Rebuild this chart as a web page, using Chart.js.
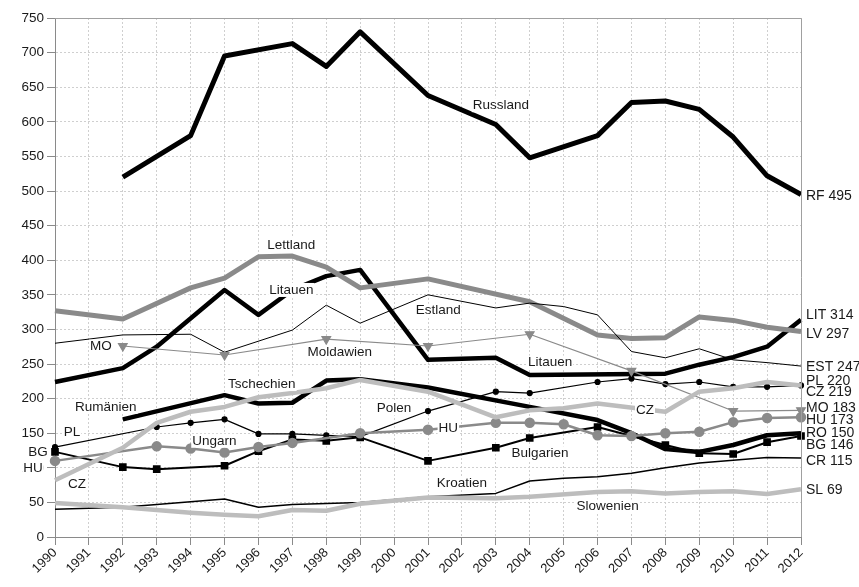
<!DOCTYPE html>
<html>
<head>
<meta charset="utf-8">
<script src="https://cdn.jsdelivr.net/npm/chart.js@4/dist/chart.umd.min.js"></script>
<style>
  body { margin: 0; background: #fff; }
  #wrap { width: 859px; height: 587px; }
</style>
</head>
<body>
<div id="wrap"><canvas id="chart"></canvas></div>
<script>
// Years and series (null = no point, the line just runs through)
const years = ["1990","1991","1992","1993","1994","1995","1996","1997","1998","1999","2000","2001",
               "2002","2003","2004","2005","2006","2007","2008","2009","2010","2011","2012"];

const russland   = [null,null,520,null,580,695,null,713,680,730,null,638,null,596,548,null,580,628,630,618,578,522,495];
const lettland   = [327,null,315,null,360,374,405,406,390,360,null,373,null,null,340,null,292,287,288,318,313,303,297];
const litauen    = [224,null,244,275,null,357,321,357,377,386,null,256,null,259,234,null,null,null,236,249,260,275,314];
const estland    = [280,null,292,null,293,267,null,299,335,309,null,350,null,331,338,333,321,268,259,272,256,252,247];
const moldawien  = [null,null,276,null,null,263,null,null,286,null,null,276,null,null,293,null,null,240,null,null,182,null,183];
const tschechien = [82,null,129,165,181,188,202,208,215,227,null,210,null,173,183,186,193,null,181,210,215,224,219];
const rumaenien  = [null,null,170,null,null,205,193,194,226,228,null,216,null,null,188,null,169,150,127,123,133,147,150];
const polen      = [130,null,null,159,165,170,149,149,147,145,null,182,null,210,208,null,224,229,221,224,217,217,219];
const ungarn     = [110,null,null,131,128,122,130,136,null,150,null,155,null,165,165,163,147,146,150,152,166,172,173];
const bulgarien  = [123,null,101,98,null,103,124,141,139,144,null,110,null,129,143,null,159,null,133,121,120,137,146];
const kroatien   = [40,null,43,null,null,55,43,47,null,50,null,58,null,63,81,85,87,92,100,107,111,115,114];
const slowenien  = [49,null,43,null,35,32,30,39,38,48,null,57,null,56,58,null,65,66,63,65,66,62,69];

const yTicks = { min: 0, max: 750, step: 50 };

// end labels at the right axis: text, value the label sits at
const endLabels = [
  ["RF 495", 493], ["LIT 314", 321], ["LV 297", 293], ["EST 247", 246],
  ["PL 220", 225], ["CZ 219", 210], ["MO 183", 186], ["HU 173", 169],
  ["RO 150", 150], ["BG 146", 133], ["CR 115", 110], ["SL 69", 68]
];

// names written inside the plot: text, year index, value
const inlineLabels = [
  ["Russland", 13.15, 624], ["Lettland", 6.97, 422], ["Litauen", 6.97, 357],
  ["Estland", 11.3, 327], ["Moldawien", 8.4, 267], ["Litauen", 14.6, 252],
  ["Tschechien", 6.1, 221], ["Rumänien", 1.5, 188], ["Polen", 10.0, 186],
  ["CZ", 17.4, 183], ["PL", 0.5, 152], ["Ungarn", 4.7, 139], ["MO", 1.35, 275],
  ["HU", 11.6, 157], ["Bulgarien", 14.3, 121], ["Kroatien", 12.0, 78],
  ["Slowenien", 16.3, 44], ["CZ", 0.65, 76], ["BG", -0.5, 123], ["HU", -0.65, 99]
];

const BLACK = "#000", GRAY = "#8a8a8a", LIGHT = "#bdbdbd";
const FONT = "'Liberation Sans', Arial, sans-serif";

function line(label, data, color, width, extra) {
  return Object.assign({
    label, data, borderColor: color, backgroundColor: color,
    borderWidth: width, pointRadius: 0, spanGaps: true, tension: 0,
    borderJoinStyle: "round", borderCapStyle: "butt"
  }, extra || {});
}

const datasets = [
  line("Slowenien", slowenien, LIGHT, 4.5),
  line("Kroatien", kroatien, BLACK, 1.5),
  line("Tschechien", tschechien, LIGHT, 4.5),
  line("Moldawien", moldawien, GRAY, 1.2, { pointStyle: "triangle", rotation: 180, pointRadius: 5 }),
  line("Ungarn", ungarn, GRAY, 2.5, { pointStyle: "circle", pointRadius: 4 }),
  line("Bulgarien", bulgarien, BLACK, 2, { pointStyle: "rect", pointRadius: 4 }),
  line("Polen", polen, BLACK, 1.2, { pointStyle: "circle", pointRadius: 2.5 }),
  line("Rumänien", rumaenien, BLACK, 4.5),
  line("Estland", estland, BLACK, 1),
  line("Lettland", lettland, GRAY, 5),
  line("Litauen", litauen, BLACK, 4.5),
  line("Russland", russland, BLACK, 5)
];

// frame, and all text labels
const labelPlugin = {
  id: "labels",
  afterDraw(chart) {
    const { ctx, chartArea: a, scales: { x, y } } = chart;
    ctx.save();
    ctx.strokeStyle = "#a0a0a0";
    ctx.lineWidth = 1;
    ctx.beginPath();
    ctx.moveTo(a.left, a.top + 0.5); ctx.lineTo(a.right + 0.5, a.top + 0.5); ctx.lineTo(a.right + 0.5, a.bottom);
    ctx.stroke();

    ctx.font = "13.5px " + FONT;
    ctx.textBaseline = "middle";
    ctx.textAlign = "center";
    inlineLabels.forEach(([t, xi, v]) => {
      const px = x.getPixelForValue(xi), py = y.getPixelForValue(v);
      const w = ctx.measureText(t).width;
      ctx.fillStyle = "#fff";
      ctx.fillRect(px - w / 2 - 1, py - 7, w + 2, 14);
      ctx.fillStyle = "#1a1a1a";
      ctx.fillText(t, px, py);
    });

    ctx.font = "14px " + FONT;
    ctx.textAlign = "left";
    endLabels.forEach(([t, v]) => {
      ctx.fillStyle = "#1a1a1a";
      ctx.fillText(t, a.right + 5, y.getPixelForValue(v));
    });
    ctx.restore();
  }
};

const ctx = document.getElementById("chart").getContext("2d");
new Chart(ctx, {
  type: "line",
  data: { labels: years, datasets },
  options: {
    responsive: true,
    maintainAspectRatio: false,
    animation: false,
    events: [],
    layout: { padding: { top: 18, right: 58, left: 0, bottom: 0 } },
    plugins: { legend: { display: false }, tooltip: { enabled: false } },
    scales: {
      x: {
        type: "category",
        offset: false,
        afterFit: s => { s.height = 50; },
        grid: { color: "#cfcfcf", tickColor: "#8a8a8a", tickLength: 8, tickBorderDash: [] },
        border: { color: "#8a8a8a", dash: [2, 2] },
        ticks: {
          autoSkip: false, minRotation: 45, maxRotation: 45, padding: 0,
          color: "#1a1a1a", font: { family: FONT, size: 13 }
        }
      },
      y: {
        min: yTicks.min, max: yTicks.max,
        afterFit: s => { s.width = 55; },
        grid: { color: "#cfcfcf", tickColor: "#8a8a8a", tickLength: 8, tickBorderDash: [] },
        border: { color: "#8a8a8a", dash: [2, 2] },
        ticks: { stepSize: yTicks.step, padding: 3, color: "#1a1a1a", font: { family: FONT, size: 13.5 } }
      }
    }
  },
  plugins: [labelPlugin]
});
</script>
</body>
</html>
